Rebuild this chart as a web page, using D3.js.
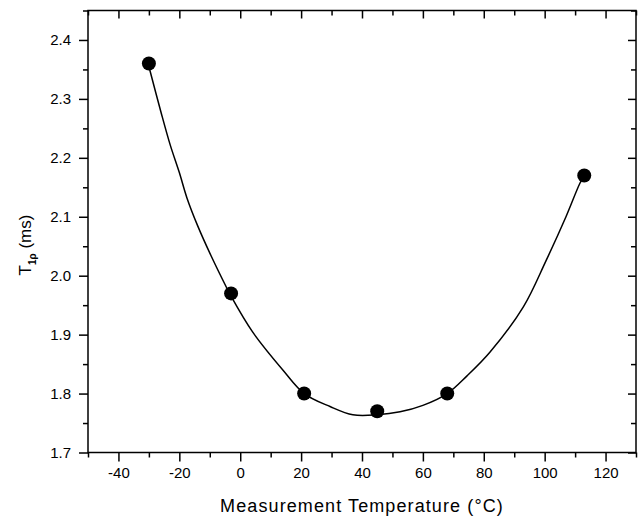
<!DOCTYPE html>
<html>
<head>
<meta charset="utf-8">
<script src="https://cdn.jsdelivr.net/npm/d3@7"></script>
<style>
  body { margin: 0; background: #fff; }
  text { font-family: "Liberation Sans", Arial, sans-serif; fill: #000; }
</style>
</head>
<body>
<div id="chart"></div>
<script>
// measured points (temperature in °C, T1rho in ms)
const tempC = [-30, -3, 21, 45, 68, 113];
const t1rho = [2.36, 1.97, 1.80, 1.77, 1.80, 2.17];

// fitted curve
const fitX = [-30, -26, -23, -20, -17.5, -14, -9.5, -4.5, -3, 4, 14, 21, 29.5, 37, 45, 52.5, 60, 68, 74.5, 82, 93, 100.5, 107, 111.5, 113];
const fitY = [2.355, 2.277, 2.222, 2.175, 2.132, 2.085, 2.033, 1.98, 1.965, 1.905, 1.84, 1.80, 1.778, 1.764, 1.764, 1.769, 1.78, 1.80, 1.83, 1.87, 1.947, 2.026, 2.10, 2.156, 2.17];

const xMajor = [-40, -20, 0, 20, 40, 60, 80, 100, 120];
const xMinor = [-50, -30, -10, 10, 30, 50, 70, 90, 110, 130];
const yMajor = [1.7, 1.8, 1.9, 2.0, 2.1, 2.2, 2.3, 2.4];
const yMinor = [1.75, 1.85, 1.95, 2.05, 2.15, 2.25, 2.35, 2.45];

const width = 642;
const height = 522;
const plotL = 88, plotR = 636, plotT = 10.5, plotB = 452.5;

const x = d3.scaleLinear().domain([-50, 130]).range([plotL, plotR]);
const y = d3.scaleLinear().domain([1.7, 2.45]).range([plotB, plotT]);

const svg = d3.select("#chart").append("svg")
  .attr("width", width)
  .attr("height", height);

// frame
svg.append("rect")
  .attr("x", plotL).attr("y", plotT)
  .attr("width", plotR - plotL).attr("height", plotB - plotT)
  .attr("fill", "none").attr("stroke", "#000").attr("stroke-width", 1.5);

function styleAxis(g) {
  g.select(".domain").remove();
  g.selectAll(".tick line").attr("stroke", "#000").attr("stroke-width", 1.5);
  g.selectAll(".tick text").style("font-size", "15px");
}

// bottom axis
svg.append("g").attr("transform", `translate(0,${plotB})`)
  .call(d3.axisBottom(x).tickValues(xMajor).tickSize(9).tickPadding(6)
    .tickFormat(d => d < 0 ? "-" + Math.abs(d) : d))
  .call(styleAxis);
svg.append("g").attr("transform", `translate(0,${plotB})`)
  .call(d3.axisBottom(x).tickValues(xMinor).tickSize(5).tickFormat(""))
  .call(styleAxis);

// top axis, ticks inward
svg.append("g").attr("transform", `translate(0,${plotT})`)
  .call(d3.axisTop(x).tickValues(xMajor).tickSize(-8).tickFormat(""))
  .call(styleAxis);
svg.append("g").attr("transform", `translate(0,${plotT})`)
  .call(d3.axisTop(x).tickValues(xMinor).tickSize(-5).tickFormat(""))
  .call(styleAxis);

// left axis
svg.append("g").attr("transform", `translate(${plotL},0)`)
  .call(d3.axisLeft(y).tickValues(yMajor).tickSize(9).tickPadding(8).tickFormat(d3.format(".1f")))
  .call(styleAxis);
svg.append("g").attr("transform", `translate(${plotL},0)`)
  .call(d3.axisLeft(y).tickValues(yMinor).tickSize(5).tickFormat(""))
  .call(styleAxis);

// right axis, ticks inward
svg.append("g").attr("transform", `translate(${plotR},0)`)
  .call(d3.axisRight(y).tickValues(yMajor).tickSize(-8).tickFormat(""))
  .call(styleAxis);
svg.append("g").attr("transform", `translate(${plotR},0)`)
  .call(d3.axisRight(y).tickValues(yMinor).tickSize(-5).tickFormat(""))
  .call(styleAxis);

// fitted curve
const fit = fitX.map((v, i) => [v, fitY[i]]);
svg.append("path")
  .datum(fit)
  .attr("fill", "none")
  .attr("stroke", "#000")
  .attr("stroke-width", 1.5)
  .attr("d", d3.line().x(d => x(d[0])).y(d => y(d[1])).curve(d3.curveCatmullRom));

// points
svg.selectAll(".pt")
  .data(tempC.map((v, i) => [v, t1rho[i]]))
  .enter().append("circle")
  .attr("class", "pt")
  .attr("cx", d => x(d[0]))
  .attr("cy", d => y(d[1]))
  .attr("r", 7)
  .attr("fill", "#000");

// x title
svg.append("text")
  .attr("x", (plotL + plotR) / 2)
  .attr("y", 512)
  .attr("text-anchor", "middle")
  .style("font-size", "18px")
  .style("letter-spacing", "1.1px")
  .text("Measurement Temperature (°C)");

// y title with subscript
const yt = svg.append("text")
  .attr("transform", "translate(31,245) rotate(-90)")
  .attr("text-anchor", "middle")
  .style("font-size", "17px");
yt.append("tspan").text("T");
yt.append("tspan").attr("dy", 5).style("font-size", "10px").style("font-weight", "bold").text("1ρ");
yt.append("tspan").attr("dy", -5).text(" (ms)");
</script>
</body>
</html>
